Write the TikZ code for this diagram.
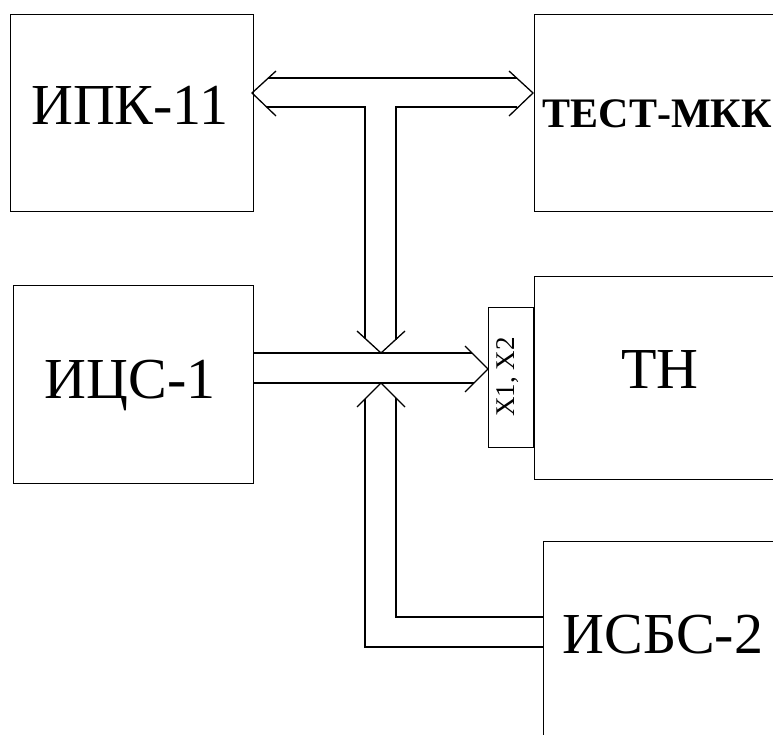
\documentclass[tikz,border=0pt]{standalone}
\usepackage{fontspec}
\setmainfont{Liberation Serif}
\begin{document}
\begin{tikzpicture}[x=1pt,y=-1pt,line width=1.3pt,
  box/.style={draw,line width=1.3pt,inner sep=0pt,anchor=north west},
  big/.style={font=\fontsize{58}{60}\selectfont,inner sep=0pt,anchor=base},
  conn/.style={line width=1.3pt,line join=miter}]
\useasboundingbox (0,0) rectangle (773,735);
\clip (0,0) rectangle (773,735);
% boxes
\node[box,minimum width=243pt,minimum height=197pt] (ipk) at (10,14) {};
\node[box,minimum width=240pt,minimum height=198pt] (ics) at (13,285) {};
\node[box,minimum width=300pt,minimum height=197pt] (test) at (534,14) {};
\node[box,minimum width=300pt,minimum height=203pt] (tn) at (534,276) {};
\node[box,minimum width=45pt,minimum height=140pt] (xx) at (488,307) {};
\node[box,minimum width=300pt,minimum height=260pt] (isbs) at (543,541) {};
% labels
\node[big] (tipk) at (130,125) {ИПК-11};
\node[big] (tics) at (130,398) {ИЦС-1};
\node[big] (ttn) at (660,388) {ТН};
\node[big] (tisbs) at (663,653) {ИСБС-2};
\node[font=\fontsize{42}{44}\selectfont\bfseries,inner sep=0pt,anchor=base west] (ttest) at (542,128) {ТЕСТ-МКК};
\node[font=\fontsize{27}{28}\selectfont,inner sep=0pt,rotate=90] (txx) at (508,377) {X1, X2};
% arrow tips
\coordinate (tl) at (252,93);
\coordinate (tr) at (533,93);
\coordinate (dn) at (381,353);
\coordinate (rt) at (488,369);
\coordinate (up) at (381,383);
% top double arrow with T
\draw[conn] (268,78) -- (517,78);
\draw[conn] (267,107) -- (365,107) -- (365,338);
\draw[conn] (517,107) -- (396,107) -- (396,340);
\draw[conn] ([shift={(24,-22)}]tl) -- (tl) -- ([shift={(24,23)}]tl);
\draw[conn] ([shift={(-24,-22)}]tr) -- (tr) -- ([shift={(-24,23)}]tr);
\draw[conn] ([shift={(-24,-22)}]dn) -- (dn) -- ([shift={(24,-22)}]dn);
% ICS-1 to X1,X2
\draw[conn] (ics.east |- 0,353) -- (472,353);
\draw[conn] (ics.east |- 0,383) -- (474,383);
\draw[conn] ([shift={(-23,-23)}]rt) -- (rt) -- ([shift={(-23,23)}]rt);
% ISBS-2 up arrow
\draw[conn] ([shift={(-24,24)}]up) -- (up) -- ([shift={(24,24)}]up);
\draw[conn] (365,399) -- (365,647) -- (isbs.west |- 0,647);
\draw[conn] (396,398) -- (396,617) -- (isbs.west |- 0,617);
\end{tikzpicture}
\end{document}
